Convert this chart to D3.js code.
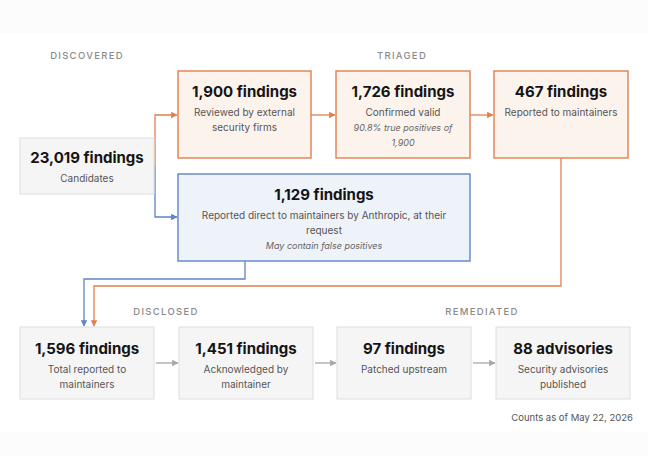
<!DOCTYPE html>
<html><head><meta charset="utf-8">
<script src="https://cdn.jsdelivr.net/npm/d3@7"></script>
<style>body{margin:0;background:#fcfcfc;font-family:Inter,"Noto Sans",sans-serif}</style>
</head><body><svg id="c" width="648" height="456"></svg>
<script>
const titles = ["23,019 findings","1,900 findings","1,726 findings","467 findings","1,129 findings","1,596 findings","1,451 findings","97 findings","88 advisories"];
const subtitles = [["Candidates"],["Reviewed by external","security firms"],["Confirmed valid"],["Reported to maintainers"],["Reported direct to maintainers by Anthropic, at their","request"],["Total reported to","maintainers"],["Acknowledged by","maintainer"],["Patched upstream"],["Security advisories","published"]];
const notes = [[],[],["90.8% true positives of","1,900"],[],["May contain false positives"],[],[],[],[]];
const kinds = ["gray","orange","orange","orange","blue","gray","gray","gray","gray"];
const stageLabels = ["DISCOVERED","TRIAGED","DISCLOSED","REMEDIATED"];
const footnote = "Counts as of May 22, 2026";

// layout (not data)
const boxes = [[20,138,134,56],[178,71,133,87],[336,71,134,87],[494,71,134,87],[178,174,292,87],
  [20,327,134,72],[179,327,134,72],[337,327,134,72],[496,327,134,72]];
const stagePos = [[87,59],[402,59],[166,315],[482,315]];
const pal = {gray:{f:"#f5f5f5",s:"#dedede"},orange:{f:"#fdf3ed",s:"#e27f4f"},blue:{f:"#eef2f9",s:"#5f84c6"}};

const svg = d3.select("#c");
const defs = svg.append("defs");
[["orange","#e27f4f"],["blue","#5f84c6"],["gray","#a8a8a8"]].forEach(([k,c])=>{
  defs.append("marker").attr("id","m"+k).attr("viewBox","0 0 10 10").attr("refX",9).attr("refY",5)
   .attr("markerWidth",5).attr("markerHeight",5).attr("orient","auto")
   .append("path").attr("d","M0,0L10,5L0,10z").attr("fill",c);
});
svg.append("rect").attr("x",0).attr("y",33).attr("width",648).attr("height",399).attr("fill","#fff");

svg.selectAll(".st").data(stageLabels).join("text").attr("x",(d,i)=>stagePos[i][0]).attr("y",(d,i)=>stagePos[i][1])
  .attr("text-anchor","middle").attr("font-size",9.5).attr("letter-spacing",1.3).attr("fill","#8a8a8a").attr("font-weight",500).text(d=>d);

const line = d3.line();
const links = [
 {c:"orange",p:[[155,166],[155,115],[177,115]]},
 {c:"blue",p:[[155,166],[155,217],[177,217]]},
 {c:"orange",p:[[311,115],[335,115]]},
 {c:"orange",p:[[470,115],[493,115]]},
 {c:"blue",p:[[245,261],[245,279],[84,279],[84,326]]},
 {c:"orange",p:[[561,158],[561,286],[94,286],[94,326]]},
 {c:"gray",p:[[156,363],[178,363]]},
 {c:"gray",p:[[315,363],[336,363]]},
 {c:"gray",p:[[473,363],[495,363]]}
];
svg.selectAll(".ln").data(links).join("path").attr("d",d=>line(d.p)).attr("fill","none")
  .attr("stroke",d=>d.c==="gray"?"#a8a8a8":pal[d.c].s).attr("stroke-width",1.3)
  .attr("marker-end",d=>`url(#m${d.c})`);

const g = svg.selectAll(".b").data(titles).join("g");
g.append("rect").attr("x",(d,i)=>boxes[i][0]).attr("y",(d,i)=>boxes[i][1]).attr("width",(d,i)=>boxes[i][2]).attr("height",(d,i)=>boxes[i][3])
 .attr("fill",(d,i)=>pal[kinds[i]].f).attr("stroke",(d,i)=>pal[kinds[i]].s).attr("stroke-width",(d,i)=>kinds[i]==="gray"?1:1.4);
g.each(function(d,i){
  const [x,y,w] = boxes[i], cx = x+w/2, top = i>=5?y+27:(i===0?y+25:y+26);
  const s = d3.select(this);
  s.append("text").attr("x",cx).attr("y",top).attr("text-anchor","middle").attr("font-size",15).attr("font-weight",700).attr("fill","#141414").text(d);
  let yy = top+19;
  subtitles[i].forEach(t=>{s.append("text").attr("x",cx).attr("y",yy).attr("text-anchor","middle").attr("font-size",10).attr("fill","#555").text(t); yy+=15;});
  notes[i].forEach(t=>{s.append("text").attr("x",cx).attr("y",yy).attr("text-anchor","middle").attr("font-size",9).attr("font-style","italic").attr("fill","#666").text(t); yy+=15;});
});
svg.append("text").attr("x",633).attr("y",421).attr("text-anchor","end").attr("font-size",9.5).attr("fill","#555").text(footnote);
</script></body></html>
